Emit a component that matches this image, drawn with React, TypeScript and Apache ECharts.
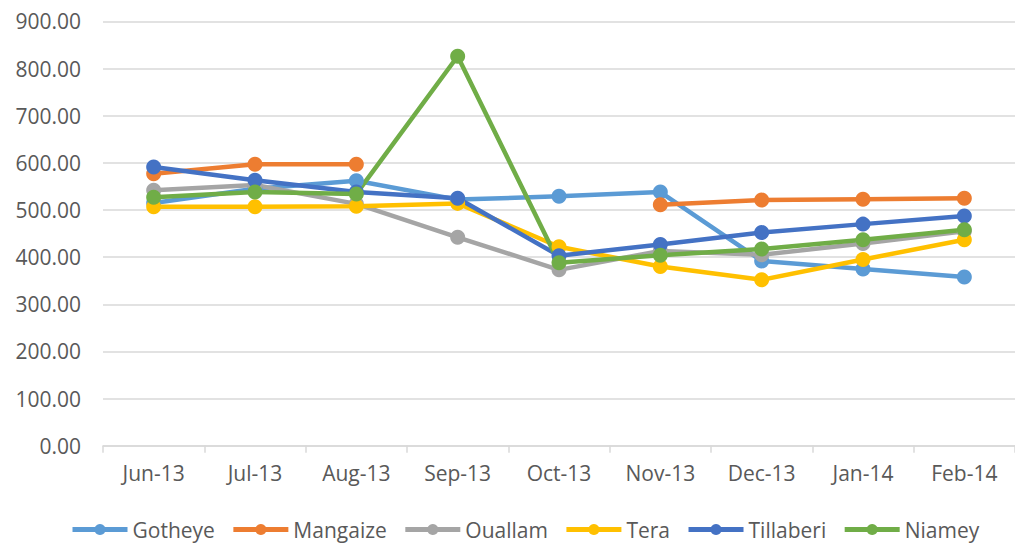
import React, { useEffect, useRef } from "react";
import * as echarts from "echarts";

const categories = ["Jun-13", "Jul-13", "Aug-13", "Sep-13", "Oct-13", "Nov-13", "Dec-13", "Jan-14", "Feb-14"];
const gotheye = [515, 545, 562, 522, 529, 538, 392, 375, 358];
const mangaize = [577, 597, 597, null, null, 511, 521, 523, 525];
const ouallam = [542, 553, 513, 442, 373, 413, 405, 429, 455];
const tera = [507, 507, 508, 514, 422, 380, 352, 395, 437];
const tillaberi = [591, 563, 538, 525, 403, 427, 452, 470, 487];
const niamey = [527, 538, 534, 826, 388, 404, 417, 437, 458];

const seriesDefs = [
  { name: "Gotheye", data: gotheye, color: "#5B9BD5" },
  { name: "Mangaize", data: mangaize, color: "#ED7D31" },
  { name: "Ouallam", data: ouallam, color: "#A5A5A5" },
  { name: "Tera", data: tera, color: "#FFC000" },
  { name: "Tillaberi", data: tillaberi, color: "#4472C4" },
  { name: "Niamey", data: niamey, color: "#70AD47" },
];

const FONT = "Open Sans";

export default function App() {
  const ref = useRef<HTMLDivElement>(null);
  useEffect(() => {
    if (!ref.current) return;
    const chart = echarts.init(ref.current, undefined, { renderer: "svg" });
    chart.setOption({
      animation: false,
      backgroundColor: "#ffffff",
      grid: { left: 103, right: 0, top: 21.4, bottom: 98.3, containLabel: false },
      xAxis: {
        type: "category",
        data: categories,
        boundaryGap: true,
        axisLine: { show: true, lineStyle: { color: "#D9D9D9", width: 1.5 } },
        axisTick: { show: true, length: 7, lineStyle: { color: "#D9D9D9", width: 1.5 } },
        axisLabel: { color: "#595959", fontFamily: FONT, fontSize: 21, margin: 17 },
        splitLine: { show: false },
      },
      yAxis: {
        type: "value",
        min: 0,
        max: 900,
        interval: 100,
        axisLine: { show: false },
        axisTick: { show: false },
        axisLabel: {
          color: "#595959",
          fontFamily: FONT,
          fontSize: 21,
          margin: 22,
          formatter: (v: number) => v.toFixed(2),
        },
        splitLine: { show: true, lineStyle: { color: "#D9D9D9", width: 1.5 } },
      },
      legend: {
        bottom: 4,
        left: 70,
        padding: 0,
        itemWidth: 55,
        itemHeight: 14,
        itemGap: 16,
        lineStyle: { width: 5 },
        textStyle: { color: "#595959", fontFamily: FONT, fontSize: 21 },
        data: seriesDefs.map((s) => s.name),
      },
      series: seriesDefs.map((s) => ({
        name: s.name,
        type: "line",
        data: s.data,
        connectNulls: false,
        symbol: "circle",
        symbolSize: 15,
        showSymbol: true,
        lineStyle: { color: s.color, width: 4.5 },
        itemStyle: { color: s.color },
        emphasis: { disabled: true },
      })),
    });
    return () => chart.dispose();
  }, []);
  return (
    <div
      ref={ref}
      style={{ position: "absolute", left: 0, top: 0, width: 1015, height: 544 }}
    />
  );
}
